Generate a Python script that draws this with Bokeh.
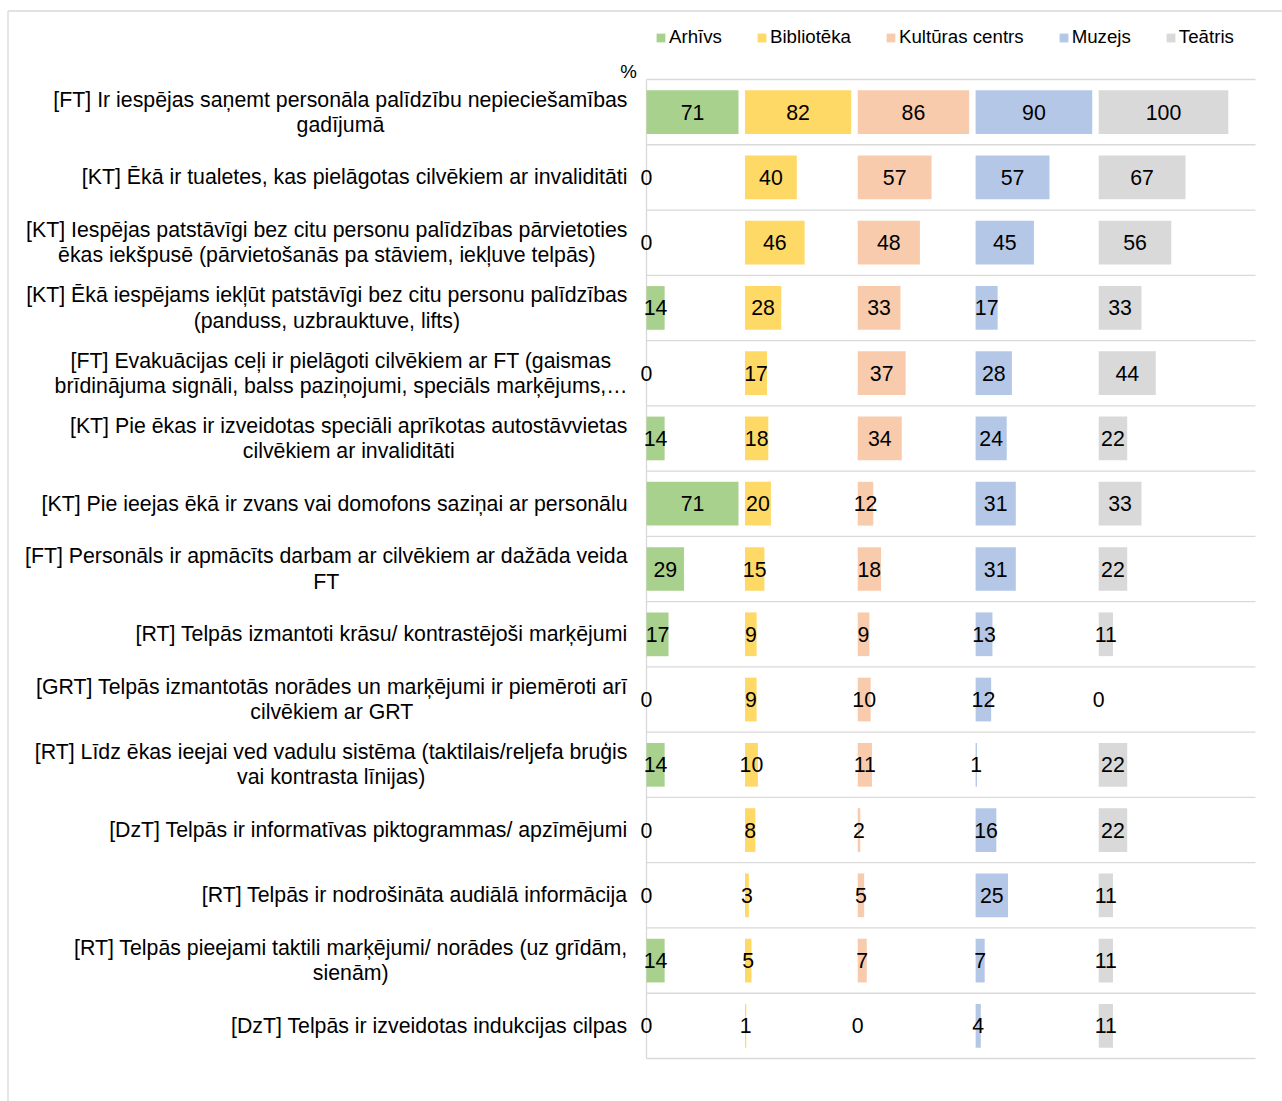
import numpy as np
from bokeh.plotting import figure
from bokeh.models import ColumnDataSource, Range1d, Legend, LegendItem
from bokeh.core.properties import value
from bokeh.embed import file_html
from bokeh.resources import INLINE

# ---------------- data ----------------
categories = [
    "[FT] Ir iespējas saņemt personāla palīdzību nepieciešamības\ngadījumā",
    "[KT] Ēkā ir tualetes, kas pielāgotas cilvēkiem ar invaliditāti",
    "[KT] Iespējas patstāvīgi bez citu personu palīdzības pārvietoties\nēkas iekšpusē (pārvietošanās pa stāviem, iekļuve telpās)",
    "[KT] Ēkā iespējams iekļūt patstāvīgi bez citu personu palīdzības\n(panduss, uzbrauktuve, lifts)",
    "[FT] Evakuācijas ceļi ir pielāgoti cilvēkiem ar FT (gaismas\nbrīdinājuma signāli, balss paziņojumi, speciāls marķējums,…",
    "[KT] Pie ēkas ir izveidotas speciāli aprīkotas autostāvvietas\ncilvēkiem ar invaliditāti",
    "[KT] Pie ieejas ēkā ir zvans vai domofons saziņai ar personālu",
    "[FT] Personāls ir apmācīts darbam ar cilvēkiem ar dažāda veida\nFT",
    "[RT] Telpās izmantoti krāsu/ kontrastējoši marķējumi",
    "[GRT] Telpās izmantotās norādes un marķējumi ir piemēroti arī\ncilvēkiem ar GRT",
    "[RT] Līdz ēkas ieejai ved vadulu sistēma (taktilais/reljefa bruģis\nvai kontrasta līnijas)",
    "[DzT] Telpās ir informatīvas piktogrammas/ apzīmējumi",
    "[RT] Telpās ir nodrošināta audiālā informācija",
    "[RT] Telpās pieejami taktili marķējumi/ norādes (uz grīdām,\nsienām)",
    "[DzT] Telpās ir izveidotas indukcijas cilpas",
]
series_names = ["Arhīvs", "Bibliotēka", "Kultūras centrs", "Muzejs", "Teātris"]
arhivs = [71, 0, 0, 14, 0, 14, 71, 29, 17, 0, 14, 0, 0, 14, 0]
biblioteka = [82, 40, 46, 28, 17, 18, 20, 15, 9, 9, 10, 8, 3, 5, 1]
kulturas_centrs = [86, 57, 48, 33, 37, 34, 12, 18, 9, 10, 11, 2, 5, 7, 0]
muzejs = [90, 57, 45, 17, 28, 24, 31, 31, 13, 12, 1, 16, 25, 7, 4]
teatris = [100, 67, 56, 33, 44, 22, 33, 22, 11, 0, 22, 22, 11, 11, 11]
unit_label = "%"

# ---------------- style / layout ----------------
colors = ["#A9D18E", "#FFD966", "#F8CBAD", "#B4C7E7", "#D9D9D9"]
FONT = "Liberation Sans"
LABEL_SIZE = "21.3px"
LEGEND_SIZE = "18.7px"
GRID_COLOR = "#D9D9D9"
GAP = 5            # gap between panels (value units)
AXIS_MAX = 470     # value axis maximum
W, H = 1282, 1101  # figure size
AXIS_X = 646       # pixel position of value 0
AXIS_RIGHT = 1255  # pixel position of AXIS_MAX
PLOT_TOP = 79      # pixel top of category area
PLOT_BOTTOM = 1058 # pixel bottom of category area
FRAME_LEFT = 7.5   # chart-area border
FRAME_TOP = 10.5
BAR_H = 0.67

series = [arhivs, biblioteka, kulturas_centrs, muzejs, teatris]
n = len(categories)
rows = np.arange(n)

# panel offsets derived from the data: each panel is as wide as its max + gap
widths = [max(s) + GAP for s in series]
offsets = np.concatenate([[0], np.cumsum(widths)[:-1]])

sx = (AXIS_RIGHT - AXIS_X) / AXIS_MAX
x_range = Range1d(-AXIS_X / sx, (W - AXIS_X) / sx)
sy = (PLOT_BOTTOM - PLOT_TOP) / n
y_top = -0.5 - PLOT_TOP / sy
y_bottom = (n - 0.5) + (H - PLOT_BOTTOM) / sy
y_range = Range1d(y_bottom, y_top)

p = figure(width=W, height=H, x_range=x_range, y_range=y_range,
           output_backend="svg", toolbar_location=None, tools="",
           x_axis_location=None, y_axis_location=None, min_border=0,
           outline_line_color=None, background_fill_color="white",
           border_fill_color="white")
p.grid.visible = False

# chart-area border (left and top edges visible in the window)
fx = -(AXIS_X - FRAME_LEFT) / sx
fy = -0.5 - (PLOT_TOP - FRAME_TOP) / sy
p.segment(x0=[fx, fx], x1=[fx, x_range.end], y0=[fy, fy], y1=[y_bottom, fy],
          line_color=GRID_COLOR, line_width=1.3)

# gridlines between categories and the category axis line
bounds = np.arange(n + 1) - 0.5
p.segment(x0=np.zeros(n + 1), x1=np.full(n + 1, AXIS_MAX), y0=bounds, y1=bounds,
          line_color=GRID_COLOR, line_width=1.3)
p.segment(x0=[0], x1=[0], y0=[bounds[0]], y1=[bounds[-1]],
          line_color=GRID_COLOR, line_width=1.3)

legend_items = []
for name, vals, off, col in zip(series_names, series, offsets, colors):
    vals = np.array(vals, dtype=float)
    src = ColumnDataSource(dict(
        y=rows, left=np.full(n, off), right=off + vals,
        mid=off + vals / 2, txt=[str(int(v)) for v in vals]))
    r = p.hbar(y="y", left="left", right="right", height=BAR_H, source=src,
               fill_color=col, line_color=None)
    p.text(x="mid", y="y", text="txt", source=src, text_align="center",
           text_baseline="middle", text_font=value(FONT),
           text_font_size=LABEL_SIZE, text_color="#000000")
    legend_items.append(LegendItem(label=name, renderers=[r]))

# category labels
p.text(x=np.zeros(n), y=rows, text=categories, x_offset=-19,
       anchor=value("center_right"), text_align="center", text_baseline="middle",
       text_font=value(FONT), text_font_size=LABEL_SIZE, text_color="#000000",
       text_line_height=1.05)

# unit label
p.text(x=[0], y=[bounds[0]], text=[unit_label], x_offset=-18, y_offset=-8,
       text_align="center", text_baseline="middle", text_font=value(FONT),
       text_font_size=LEGEND_SIZE, text_color="#000000")

legend = Legend(items=legend_items, orientation="horizontal",
                location=(655, H - 48), glyph_width=11, glyph_height=11,
                label_standoff=3, spacing=34, padding=0, margin=0,
                border_line_color=None, background_fill_alpha=0,
                label_text_font=FONT, label_text_font_size=LEGEND_SIZE,
                label_text_color="#000000", label_height=20)
p.add_layout(legend)

open("out.html", "w").write(file_html(p, INLINE))
